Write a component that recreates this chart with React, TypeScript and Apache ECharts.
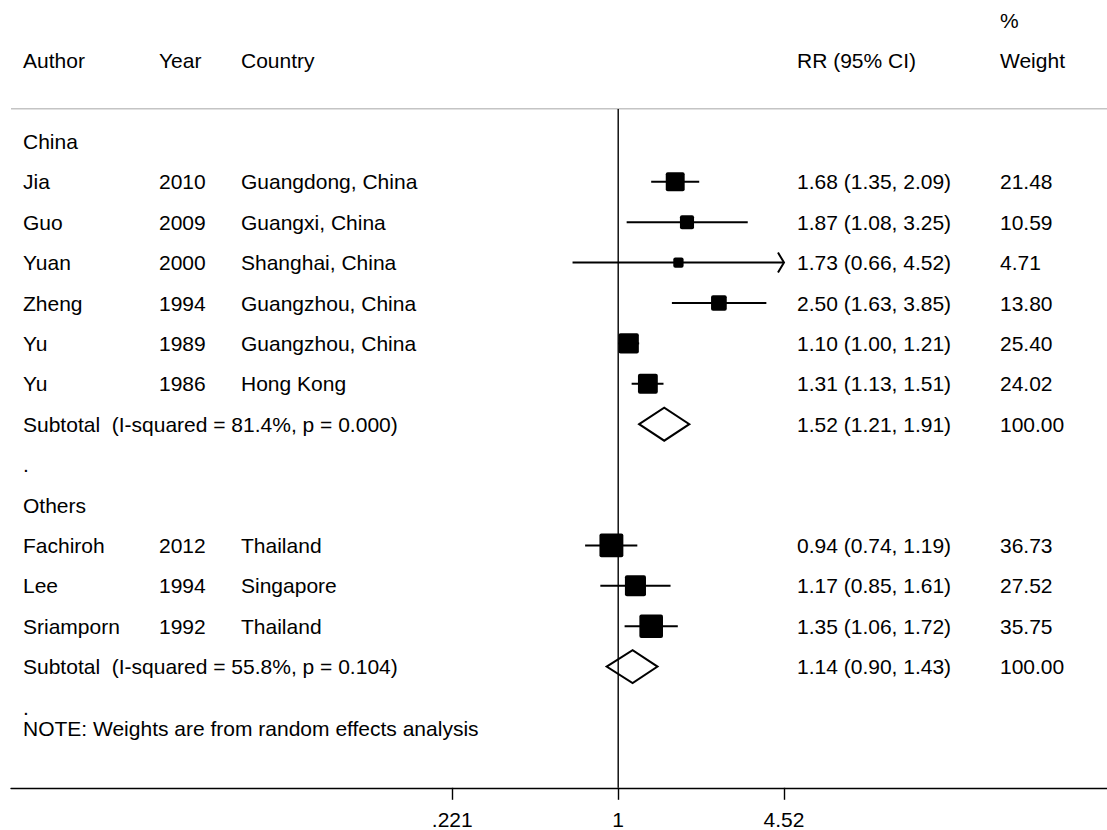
import React, { useEffect, useRef } from "react";
import * as echarts from "echarts";

// ---------- data ----------
const groupNames = ["China", "Others"];
const authors = ["Jia", "Guo", "Yuan", "Zheng", "Yu", "Yu", "Fachiroh", "Lee", "Sriamporn"];
const years = ["2010", "2009", "2000", "1994", "1989", "1986", "2012", "1994", "1992"];
const countries = [
  "Guangdong, China",
  "Guangxi, China",
  "Shanghai, China",
  "Guangzhou, China",
  "Guangzhou, China",
  "Hong Kong",
  "Thailand",
  "Singapore",
  "Thailand",
];
const studyGroup = [0, 0, 0, 0, 0, 0, 1, 1, 1];
const rr = [1.68, 1.87, 1.73, 2.5, 1.1, 1.31, 0.94, 1.17, 1.35];
const lower = [1.35, 1.08, 0.66, 1.63, 1.0, 1.13, 0.74, 0.85, 1.06];
const upper = [2.09, 3.25, 4.52, 3.85, 1.21, 1.51, 1.19, 1.61, 1.72];
const weights = [21.48, 10.59, 4.71, 13.8, 25.4, 24.02, 36.73, 27.52, 35.75];

const subRR = [1.52, 1.14];
const subLower = [1.21, 0.9];
const subUpper = [1.91, 1.43];
const subISq = ["81.4%", "55.8%"];
const subP = ["0.000", "0.104"];
const subWeight = [100, 100];

const tickValues = [0.221, 1, 4.52];
const tickLabels = [".221", "1", "4.52"];
const noteText = "NOTE: Weights are from random effects analysis";

// ---------- layout ----------
const W = 1107;
const H = 830;
const FONT = "'Liberation Sans', Arial, Helvetica, sans-serif";
const FS = 21;
const colX = { author: 23, year: 159, country: 241, rr: 797, weight: 1000 };
const gridLeft = 11;
const xOne = 618.2;
const pxPerLn = 331.7 / (Math.log(4.52) - Math.log(0.221));
const xMin = -(xOne - gridLeft) / pxPerLn;
const xMax = (W - xOne) / pxPerLn;
const plotMax = tickValues[tickValues.length - 1];

type Cell = { col: keyof typeof colX; text: string };
type TextRow = { row: number; cells: Cell[] };

function buildRows() {
  const textRows: TextRow[] = [];
  const studyMarks: number[][] = [];
  const diamondMarks: number[][] = [];
  textRows.push({ row: -3, cells: [{ col: "weight", text: "%" }] });
  textRows.push({
    row: -2,
    cells: [
      { col: "author", text: "Author" },
      { col: "year", text: "Year" },
      { col: "country", text: "Country" },
      { col: "rr", text: "RR (95% CI)" },
      { col: "weight", text: "Weight" },
    ],
  });
  let row = 0;
  groupNames.forEach((g, gi) => {
    textRows.push({ row, cells: [{ col: "author", text: g }] });
    row++;
    authors.forEach((a, i) => {
      if (studyGroup[i] !== gi) return;
      textRows.push({
        row,
        cells: [
          { col: "author", text: a },
          { col: "year", text: years[i] },
          { col: "country", text: countries[i] },
          {
            col: "rr",
            text: `${rr[i].toFixed(2)} (${lower[i].toFixed(2)}, ${upper[i].toFixed(2)})`,
          },
          { col: "weight", text: weights[i].toFixed(2) },
        ],
      });
      studyMarks.push([
        Math.log(lower[i]),
        Math.log(upper[i]),
        Math.log(rr[i]),
        row,
        weights[i],
        upper[i] >= plotMax ? 1 : 0,
      ]);
      row++;
    });
    textRows.push({
      row,
      cells: [
        {
          col: "author",
          text: `Subtotal  (I-squared = ${subISq[gi]}, p = ${subP[gi]})`,
        },
        {
          col: "rr",
          text: `${subRR[gi].toFixed(2)} (${subLower[gi].toFixed(2)}, ${subUpper[gi].toFixed(2)})`,
        },
        { col: "weight", text: subWeight[gi].toFixed(2) },
      ],
    });
    diamondMarks.push([Math.log(subLower[gi]), Math.log(subUpper[gi]), Math.log(subRR[gi]), row]);
    row++;
    textRows.push({ row, cells: [{ col: "author", text: "." }] });
    if (gi < groupNames.length - 1) row++;
  });
  textRows.push({ row: row + 0.52, cells: [{ col: "author", text: noteText }] });
  return { textRows, studyMarks, diamondMarks, lastRow: row };
}

export default function App() {
  const ref = useRef<HTMLDivElement>(null);

  useEffect(() => {
    if (!ref.current) return;
    const chart = echarts.init(ref.current, null, { renderer: "svg" });
    const { textRows, studyMarks, diamondMarks } = buildRows();
    const lnTicks = tickValues.map((v) => Math.log(v));

    const option: any = {
      animation: false,
      backgroundColor: "#ffffff",
      grid: { left: gridLeft, right: 0, top: 0, bottom: H - 40.4 * 19.5 },
      xAxis: {
        type: "value",
        min: xMin,
        max: xMax,
        position: "bottom",
        splitLine: { show: false },
        axisLine: { show: true, onZero: false, lineStyle: { color: "#000", width: 1.4 } },
        axisTick: {
          show: true,
          customValues: lnTicks,
          length: 12,
          inside: false,
          lineStyle: { color: "#000", width: 1.4 },
        },
        axisLabel: {
          show: true,
          customValues: lnTicks,
          margin: 21,
          color: "#000",
          fontSize: FS,
          fontFamily: FONT,
          formatter: (v: number) => {
            const i = lnTicks.findIndex((t) => Math.abs(t - v) < 1e-6);
            return i >= 0 ? tickLabels[i] : "";
          },
        },
      },
      yAxis: {
        type: "value",
        inverse: true,
        min: -3.5,
        max: 16,
        show: false,
      },
      series: [
        {
          type: "line",
          data: [
            [xMin, -0.81],
            [xMax, -0.81],
          ],
          symbol: "none",
          silent: true,
          lineStyle: { color: "#c4c4c4", width: 1.5 },
        },
        {
          type: "line",
          data: [
            [0, -0.8],
            [0, 16],
          ],
          symbol: "none",
          silent: true,
          lineStyle: { color: "#000", width: 1.4 },
        },
        {
          type: "custom",
          data: studyMarks,
          renderItem: (params: any, api: any) => {
            const lo = api.coord([api.value(0), api.value(3)]);
            const hi = api.coord([api.value(1), api.value(3)]);
            const est = api.coord([api.value(2), api.value(3)]);
            const w = api.value(4);
            const arrow = api.value(5);
            const s = 2.7 + 3.5 * Math.sqrt(w);
            const children: any[] = [
              {
                type: "line",
                shape: { x1: lo[0], y1: lo[1], x2: hi[0], y2: hi[1] },
                style: { stroke: "#000", lineWidth: 2 },
              },
              {
                type: "rect",
                shape: { x: est[0] - s / 2, y: est[1] - s / 2, width: s, height: s, r: 2 },
                style: { fill: "#000" },
              },
            ];
            if (arrow) {
              children.push({
                type: "polyline",
                shape: {
                  points: [
                    [hi[0] - 6, hi[1] - 10],
                    [hi[0], hi[1]],
                    [hi[0] - 6, hi[1] + 10],
                  ],
                },
                style: { stroke: "#000", lineWidth: 2, fill: "none" },
              });
            }
            return { type: "group", children };
          },
        },
        {
          type: "custom",
          data: diamondMarks,
          renderItem: (params: any, api: any) => {
            const lo = api.coord([api.value(0), api.value(3)]);
            const hi = api.coord([api.value(1), api.value(3)]);
            const est = api.coord([api.value(2), api.value(3)]);
            const h = 16.5;
            return {
              type: "polygon",
              shape: {
                points: [
                  [lo[0], lo[1]],
                  [est[0], est[1] - h],
                  [hi[0], hi[1]],
                  [est[0], est[1] + h],
                ],
              },
              style: { stroke: "#000", lineWidth: 2, fill: "#fff" },
            };
          },
        },
        {
          type: "custom",
          data: textRows.map((t) => [0, t.row]),
          renderItem: (params: any, api: any) => {
            const r = textRows[params.dataIndex];
            const y = api.coord([0, r.row])[1];
            return {
              type: "group",
              children: r.cells.map((c) => ({
                type: "text",
                x: colX[c.col],
                y,
                style: {
                  text: c.text,
                  fill: "#000",
                  fontSize: FS,
                  fontFamily: FONT,
                  align: "left",
                  verticalAlign: "middle",
                },
              })),
            };
          },
        },
      ],
    };
    chart.setOption(option);
    return () => chart.dispose();
  }, []);

  return (
    <div
      ref={ref}
      style={{ position: "absolute", left: 0, top: 0, width: W, height: H, background: "#fff" }}
    />
  );
}
